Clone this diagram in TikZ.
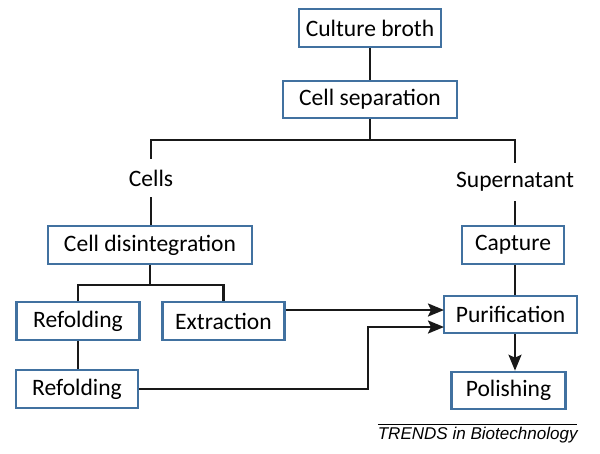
\documentclass[tikz,border=0pt]{standalone}
\usepackage{fontspec}
\setmainfont{Carlito}
\newfontfamily\trendsfont{Liberation Sans}
\usepackage{xcolor}
\usetikzlibrary{arrows.meta}

\definecolor{boxblue}{RGB}{65,113,160}

\begin{document}
\begin{tikzpicture}[x=0.02cm,y=-0.02cm]
        % Styles for the boxes, labels and lines
        \tikzset{
            stepbox/.style={draw=boxblue, line width=1.2pt, fill=white, minimum height=0.75cm,
                inner xsep=2pt, font=\fontsize{13.4}{16}\selectfont},
            branchlabel/.style={inner sep=0pt, minimum height=0.76cm, font=\fontsize{13.4}{16}\selectfont},
            link/.style={line width=1.3pt, black!90},
            flow/.style={link, -{Stealth[length=3.2mm, width=2.6mm, inset=0.6mm]}}
        }
        \useasboundingbox (0,0) rectangle (600,454);

        % Top of the chart
        \node[stepbox, minimum width=2.84cm] (broth) at (370,28) {Culture broth};
        \node[stepbox, minimum width=3.48cm] (sep) at (370,99.5) {Cell separation};

        % Helper coordinates
        \coordinate (split) at (370,140);
        \coordinate (subsplit) at (150,285);
        \coordinate (rcol) at (515,0);
        \coordinate (bend) at (368,0);
        \coordinate (in1) at (444,310);
        \coordinate (in2) at (444,327);

        % Cells and supernatant
        \node[branchlabel] (cells) at (151,178) {Cells};
        \node[branchlabel] (super) at (515,182) {Supernatant};

        % Cell branch
        \node[stepbox, minimum width=4.08cm] (disint) at (150,245) {Cell disintegration};
        \node[stepbox, minimum width=2.46cm] (refold1) at (78,321) {Refolding};
        \node[stepbox, minimum width=2.44cm] (extract) at (223.5,321) {Extraction};
        \node[stepbox, minimum width=2.44cm] (refold2) at (77,389) {Refolding};

        % Supernatant branch
        \node[stepbox, minimum width=2.04cm] (capture) at (513,245) {Capture};
        \node[stepbox, minimum width=2.66cm] (purif) at (510.5,314.5) {Purification};
        \node[stepbox, minimum width=2.28cm] (polish) at (508.5,390.5) {Polishing};

        % Lines of the tree
        \draw[link] (broth) -- (sep);
        \draw[link] (sep.south) -- (split);
        \draw[link] (cells.north) |- (split) -| (super.north);
        \draw[link] (cells.south) -- (cells.south |- disint.north);
        \draw[link] (disint.south) -- (subsplit);
        \draw[link] (refold1.north) |- (subsplit) -| (extract.north);
        \draw[link] (refold1.south) -- (refold1.south |- refold2.north);
        \draw[link] (super.south) -- (super.south |- capture.north);
        \draw[link] (rcol |- capture.south) -- (rcol |- purif.north);

        % Arrows into purification and polishing
        \draw[flow] (extract.east |- in1) -- (in1);
        \draw[flow] (refold2.east) -| (bend |- in2) -- (in2);
        \draw[flow] (rcol |- purif.south) -- (rcol |- polish.north);

        % Journal mark
        \coordinate (rule1) at (378,424);
        \coordinate (rule2) at (577,424);
        \draw[line width=0.5pt] (rule1) -- (rule2);
        \node[anchor=north east, inner sep=0pt, font=\trendsfont\itshape\fontsize{9.7}{11}\selectfont]
            (trends) at (578,427) {TRENDS in Biotechnology};
\end{tikzpicture}
\end{document}
